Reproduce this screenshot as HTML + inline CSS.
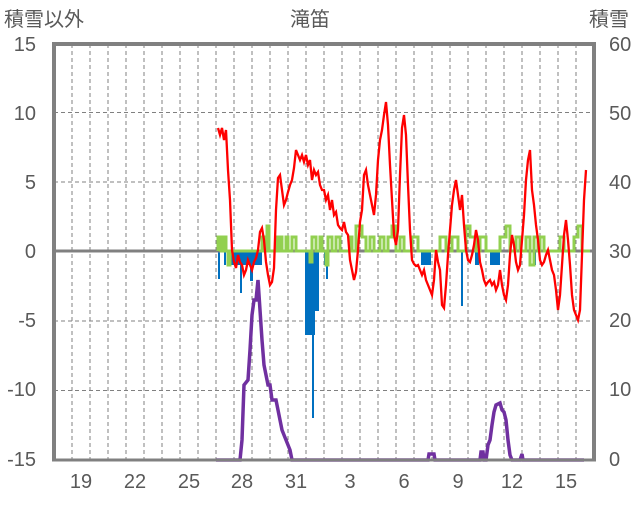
<!DOCTYPE html>
<html><head><meta charset="utf-8"><style>
body{margin:0;background:#fff;}
svg text{font-family:"Liberation Sans","Noto Sans CJK JP",sans-serif;fill:#595959;font-size:20px;}
</style></head><body>
<svg width="636" height="501" viewBox="0 0 636 501" xmlns="http://www.w3.org/2000/svg">
<text x="4" y="26">積雪以外</text>
<text x="310" y="26" text-anchor="middle">滝笛</text>
<text x="589" y="26">積雪</text>
<g text-anchor="end">
<text x="36" y="51">15</text><text x="36" y="120">10</text><text x="36" y="189">5</text><text x="36" y="258">0</text><text x="36" y="327">-5</text><text x="36" y="396">-10</text><text x="36" y="466">-15</text>
</g>
<g>
<text x="609" y="51">60</text><text x="609" y="120">50</text><text x="609" y="189">40</text><text x="609" y="258">30</text><text x="609" y="327">20</text><text x="609" y="396">10</text><text x="609" y="466">0</text>
</g>
<g text-anchor="middle">
<text x="81" y="488">19</text><text x="135" y="488">22</text><text x="189" y="488">25</text><text x="242" y="488">28</text><text x="296" y="488">31</text><text x="350" y="488">3</text><text x="404" y="488">6</text><text x="458" y="488">9</text><text x="512" y="488">12</text><text x="566" y="488">15</text>
</g>
<g stroke="#808080" stroke-width="1" stroke-dasharray="4,3">
<path d="M72 44V460M90 44V460M108 44V460M126 44V460M144 44V460M162 44V460M180 44V460M198 44V460M216 44V460M234 44V460M252 44V460M270 44V460M288 44V460M306 44V460M324 44V460M342 44V460M360 44V460M378 44V460M396 44V460M414 44V460M432 44V460M450 44V460M468 44V460M486 44V460M504 44V460M522 44V460M540 44V460M558 44V460M576 44V460"/>
<path d="M54 112.5H594M54 182H594M54 321H594M54 390.5H594"/>
</g>
<g fill="#0070C0">
<rect x="218" y="251" width="2" height="28"/><rect x="224" y="251" width="2" height="14"/><rect x="230" y="251" width="14" height="14"/><rect x="240" y="251" width="2" height="42"/><rect x="244" y="251" width="18" height="14"/><rect x="250" y="251" width="3" height="30"/>
<rect x="305" y="251" width="10" height="84"/><rect x="312" y="251" width="2" height="167"/><rect x="315" y="251" width="4" height="60"/>
<rect x="324" y="251" width="2" height="14"/><rect x="326" y="251" width="2" height="28"/>
<rect x="421" y="251" width="10" height="14"/><rect x="461" y="251" width="2" height="55"/><rect x="475" y="251" width="4" height="14"/><rect x="490" y="251" width="10" height="14"/><rect x="534" y="251" width="2" height="14"/>
</g>
<path fill="none" stroke="#808080" stroke-width="3" d="M54 251H594"/>
<path fill="none" stroke="#92D050" stroke-width="3" d="M218 251V237H221V251H223V237H226V251H228V265H230V251H262V237H264V251H267V226H269V251H276V237H278V251H280V237H282V251H286V237H288V251H292V237H296V251H310V262H312V237H316V251H320V237H322V251H326V265H328V237H332V251H336V237H340V251H350V237H352V251H356V226H362V237H366V251H370V237H374V251H380V237H384V251H388V237H392V226H396V251H400V237H404V251H412V237H418V251H440V237H446V251H452V237H458V251H466V226H470V237H476V251H480V237H486V251H500V237H506V226H510V251H516V237H520V251H526V237H530V265H534V237H538V251H540V237H544V251H560V237H564V251H574V237H578V226H582V251H590"/>
<polyline fill="none" stroke="#FF0000" stroke-width="2.3" points="218,128 220,135 222,128 224,140 226,130 228,170 230,200 232,250 234,262 236,268 238,255 240,262 242,265 244,275 246,270 248,260 250,265 252,270 254,262 256,258 258,250 260,232 262,228 264,240 266,262 268,275 270,285 272,282 274,268 276,210 278,178 280,175 282,190 284,205 286,200 288,192 290,185 292,180 294,168 296,150 298,155 300,160 302,155 304,162 306,155 308,165 310,160 312,180 314,170 316,175 318,172 320,185 322,190 324,190 326,200 328,195 330,210 332,200 334,215 336,212 338,225 340,228 342,230 344,222 346,232 348,235 350,260 352,270 354,280 356,272 358,250 360,222 362,210 364,175 366,170 368,185 370,195 372,205 374,215 376,195 378,160 380,140 382,130 384,115 386,102 388,125 390,165 392,200 394,235 396,245 398,230 400,175 402,128 404,115 406,135 408,185 410,230 412,260 414,264 416,266 418,265 420,270 422,275 424,270 426,280 428,285 430,290 432,295 434,280 436,250 438,262 440,270 442,305 444,308 446,285 448,255 450,230 452,205 454,190 456,180 458,195 460,210 462,195 464,225 466,250 468,260 470,262 472,255 474,245 476,230 478,240 480,262 482,270 484,280 486,285 488,282 490,280 492,285 494,282 496,290 498,285 500,270 502,285 504,295 506,300 508,285 510,255 512,235 514,245 516,262 518,270 520,265 522,240 524,215 526,180 528,160 530,150 532,190 534,205 536,225 538,240 540,260 542,265 544,262 546,255 548,250 550,260 552,270 554,275 556,290 558,310 560,295 562,265 564,235 566,220 568,240 570,265 572,295 574,310 576,315 578,320 580,310 582,255 584,200 586,170"/>
<polyline fill="none" stroke="#7030A0" stroke-width="3.5" points="216,460 240,460 242,440 244,385 248,380 250,350 252,315 254,300 256,300 258,280 260,310 262,340 264,365 266,375 268,385 270,385 272,400 276,400 278,410 282,430 286,440 290,450 292,460 428,460 429,454 434,454 435,460 480,460 481,452 483,452 484,460 486,460 488,445 490,440 492,425 494,412 496,405 500,403 502,410 504,412 506,420 508,440 510,455 512,460 520,460 522,454 523,460 584,460"/>
<path fill="none" stroke="#808080" stroke-width="4" d="M54 460V44H594V460"/>
<path fill="none" stroke="#808080" stroke-width="3" d="M52 460H596"/>
</svg>
</body></html>
